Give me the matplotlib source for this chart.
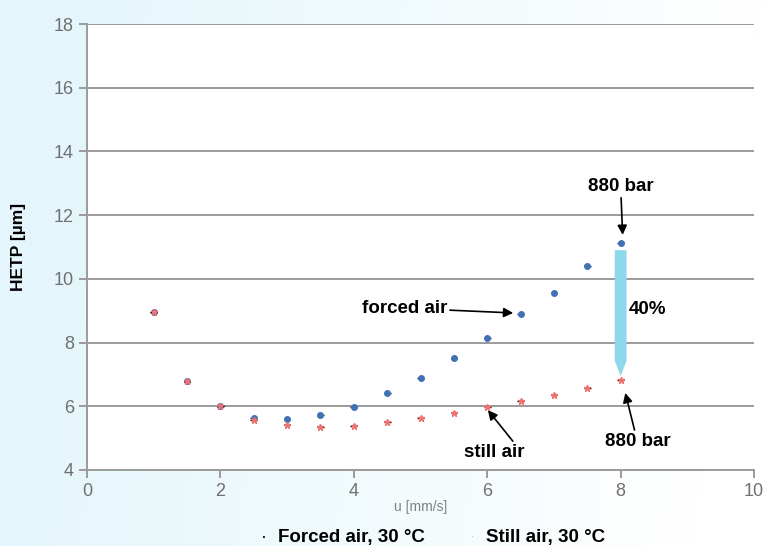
import numpy as np
import matplotlib
matplotlib.use("Agg")
import matplotlib.pyplot as plt
from matplotlib.colors import LinearSegmentedColormap

plt.rcParams["font.family"] = ["Liberation Sans", "DejaVu Sans"]

# flow velocity [mm/s]
u = [1.0, 1.5, 2.0, 2.5, 3.0, 3.5, 4.0, 4.5, 5.0, 5.5, 6.0, 6.5, 7.0, 7.5, 8.0]
# HETP [um]
hetp_forced = [8.96, 6.79, 6.00, 5.63, 5.60, 5.73, 5.98, 6.42, 6.89, 7.52, 8.14, 8.90, 9.56, 10.40, 11.12]
hetp_still = [8.95, 6.78, 6.00, 5.57, 5.41, 5.35, 5.38, 5.50, 5.63, 5.79, 5.98, 6.17, 6.35, 6.57, 6.82]

fig = plt.figure(figsize=(7.65, 5.46), dpi=100)

# pale cyan background wash, strongest at the left
bg = fig.add_axes([0, 0, 1, 1], zorder=-10)
gx, gy = np.meshgrid(np.linspace(0, 1, 200), np.linspace(0, 1, 200))
wash = np.clip(1.0 - 1.1 * gx + 0.1 * gy, 0, 1)
cmap = LinearSegmentedColormap.from_list("wash", ["#ffffff", "#e4f6fb"])
bg.imshow(wash, cmap=cmap, vmin=0, vmax=1, extent=[0, 1, 0, 1], aspect="auto", origin="lower")
bg.axis("off")

ax = fig.add_axes([0.1137, 0.1392, 0.872, 0.8168])
ax.set_facecolor("white")

grey = "#9a9a9a"
for y in range(6, 19, 2):
    ax.axhline(y, color=grey, lw=1.4, zorder=1)

ax.errorbar(u, hetp_forced, xerr=0.05, fmt="o", ms=4, color="#3f72b5",
            ecolor="black", elinewidth=1.0, capsize=0, zorder=3)
ax.errorbar(u, hetp_still, xerr=0.05, fmt="*", ms=5, color="#f07070",
            ecolor="black", elinewidth=1.0, capsize=0, zorder=4)

ax.set_xlim(0, 10)
ax.set_ylim(4, 18)
ax.set_xticks(range(0, 11, 2))
ax.set_yticks(range(4, 19, 2))
for s in ["top", "right"]:
    ax.spines[s].set_visible(False)
for s in ["left", "bottom"]:
    ax.spines[s].set_color(grey)
    ax.spines[s].set_linewidth(1.4)
ax.tick_params(colors=grey, width=1.4, length=6, labelsize=13, labelcolor="#707070")
ax.set_xlabel("u [mm/s]", fontsize=10, color="#808080", labelpad=0)
ax.set_ylabel("HETP [µm]", fontsize=12.5, fontweight="bold", labelpad=20)

# 40 % reduction arrow
ax.annotate("", xy=(8.0, 6.95), xytext=(8.0, 10.9),
            arrowprops=dict(arrowstyle="simple,head_width=0.85,head_length=1.1,tail_width=0.85",
                            color="#8dd8ea", lw=0, shrinkA=0, shrinkB=0), zorder=2)
ax.text(8.12, 9.05, "40%", fontsize=13.5, fontweight="bold", va="center", ha="left")

arr = dict(arrowstyle="-|>", color="black", lw=1.2, mutation_scale=14, shrinkA=0, shrinkB=0)
ax.annotate("880 bar", xy=(8.03, 11.38), xytext=(8.0, 12.9), fontsize=13.5, fontweight="bold",
            ha="center", va="center", arrowprops=arr)
ax.annotate("880 bar", xy=(8.07, 6.42), xytext=(8.25, 4.9), fontsize=13.5, fontweight="bold",
            ha="center", va="center", arrowprops=arr)
ax.annotate("forced air", xy=(6.39, 8.93), xytext=(5.4, 9.08), fontsize=13.5, fontweight="bold",
            ha="right", va="center", arrowprops=arr)
ax.annotate("still air", xy=(6.01, 5.88), xytext=(6.1, 4.55), fontsize=13.5, fontweight="bold",
            ha="center", va="center", arrowprops=dict(arr, relpos=(0.85, 1.0)))

# legend below
fig.text(0.345, 0.008, "·", fontsize=13, ha="center", va="baseline")
fig.text(0.363, 0.008, "Forced air, 30 °C", fontsize=13.5, fontweight="bold", va="baseline")
fig.text(0.618, 0.012, "·", fontsize=6, ha="center", va="baseline", color="#aaaaaa")
fig.text(0.635, 0.008, "Still air, 30 °C", fontsize=13.5, fontweight="bold", va="baseline")

fig.savefig("out.png", dpi=100)
